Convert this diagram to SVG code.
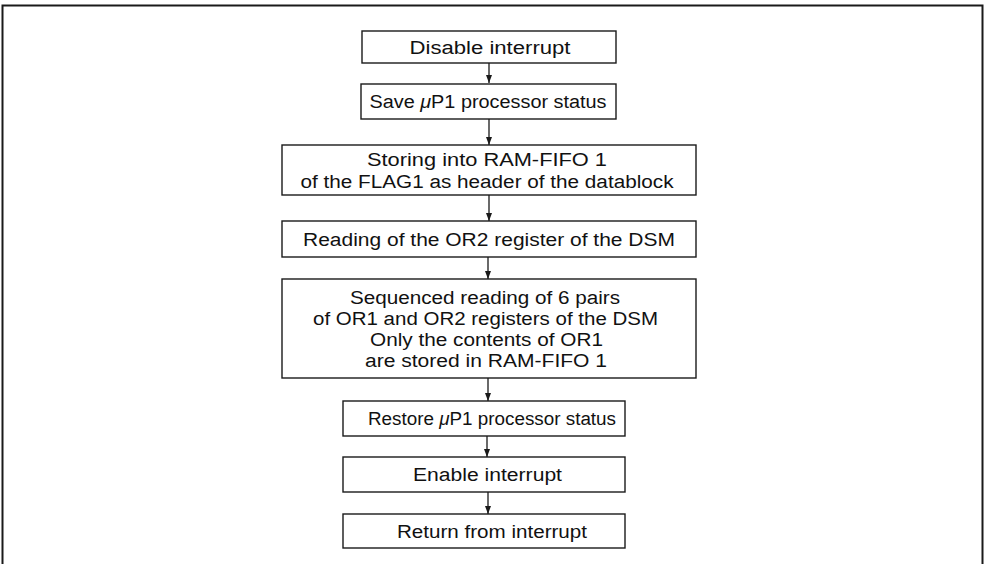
<svg xmlns="http://www.w3.org/2000/svg" width="985" height="564" viewBox="0 0 985 564">
<defs>
<style>
.box{fill:#fff;stroke:#1a1a1a;stroke-width:1.4}
.frame{fill:none;stroke:#1a1a1a;stroke-width:2}
.lbl{font-family:"Liberation Sans",Arial,sans-serif;font-size:18px;fill:#111;text-anchor:middle}
.con{stroke:#1a1a1a;stroke-width:1.3;fill:none;marker-end:url(#ah)}
</style>
<marker id="ah" markerWidth="8" markerHeight="6" refX="8" refY="3" orient="auto" markerUnits="userSpaceOnUse" viewBox="0 0 8 6">
<path d="M0,0 L8,3 L0,6 Z" fill="#1a1a1a"/>
</marker>
</defs>
<rect width="985" height="564" fill="#fff"/>
<path class="frame" d="M2.5,570 V5.5 H982.5 V570"/>
<g id="connectors">
<line class="con" x1="489" y1="63" x2="489" y2="83"/>
<line class="con" x1="489" y1="119" x2="489" y2="145"/>
<line class="con" x1="489" y1="195" x2="489" y2="221"/>
<line class="con" x1="488" y1="257" x2="488" y2="279"/>
<line class="con" x1="488" y1="378" x2="488" y2="401"/>
<line class="con" x1="487" y1="436" x2="487" y2="457"/>
<line class="con" x1="488" y1="492" x2="488" y2="514"/>
</g>
<g id="n1"><rect class="box" x="362" y="31" width="254" height="32"/><text class="lbl" x="490" y="53.5" textLength="161" lengthAdjust="spacingAndGlyphs">Disable interrupt</text></g>
<g id="n2"><rect class="box" x="361" y="84" width="255" height="35"/><text class="lbl" x="488" y="107.5" textLength="237" lengthAdjust="spacingAndGlyphs">Save <tspan font-style="italic">μ</tspan>P1 processor status</text></g>
<g id="n3"><rect class="box" x="282" y="145" width="414" height="50"/><text class="lbl" x="487" y="165.5" textLength="240" lengthAdjust="spacingAndGlyphs">Storing into RAM-FIFO 1</text><text class="lbl" x="487" y="187.5" textLength="373" lengthAdjust="spacingAndGlyphs">of the FLAG1 as header of the datablock</text></g>
<g id="n4"><rect class="box" x="282" y="221" width="414" height="36"/><text class="lbl" x="489" y="245.5" textLength="372" lengthAdjust="spacingAndGlyphs">Reading of the OR2 register of the DSM</text></g>
<g id="n5"><rect class="box" x="282" y="279" width="414" height="99"/>
<text class="lbl" x="485" y="303.5" textLength="270" lengthAdjust="spacingAndGlyphs">Sequenced reading of 6 pairs</text>
<text class="lbl" x="485.5" y="324.5" textLength="345" lengthAdjust="spacingAndGlyphs">of OR1 and OR2 registers of the DSM</text>
<text class="lbl" x="486.5" y="345.5" textLength="233" lengthAdjust="spacingAndGlyphs">Only the contents of OR1</text>
<text class="lbl" x="486" y="366.5" textLength="242" lengthAdjust="spacingAndGlyphs">are stored in RAM-FIFO 1</text></g>
<g id="n6"><rect class="box" x="343" y="401" width="282" height="35"/><text class="lbl" x="492" y="425" textLength="248" lengthAdjust="spacingAndGlyphs">Restore <tspan font-style="italic">μ</tspan>P1 processor status</text></g>
<g id="n7"><rect class="box" x="343" y="457" width="282" height="35"/><text class="lbl" x="487.5" y="481" textLength="149" lengthAdjust="spacingAndGlyphs">Enable interrupt</text></g>
<g id="n8"><rect class="box" x="343" y="514" width="282" height="34"/><text class="lbl" x="492" y="537.5" textLength="190" lengthAdjust="spacingAndGlyphs">Return from interrupt</text></g>
</svg>
